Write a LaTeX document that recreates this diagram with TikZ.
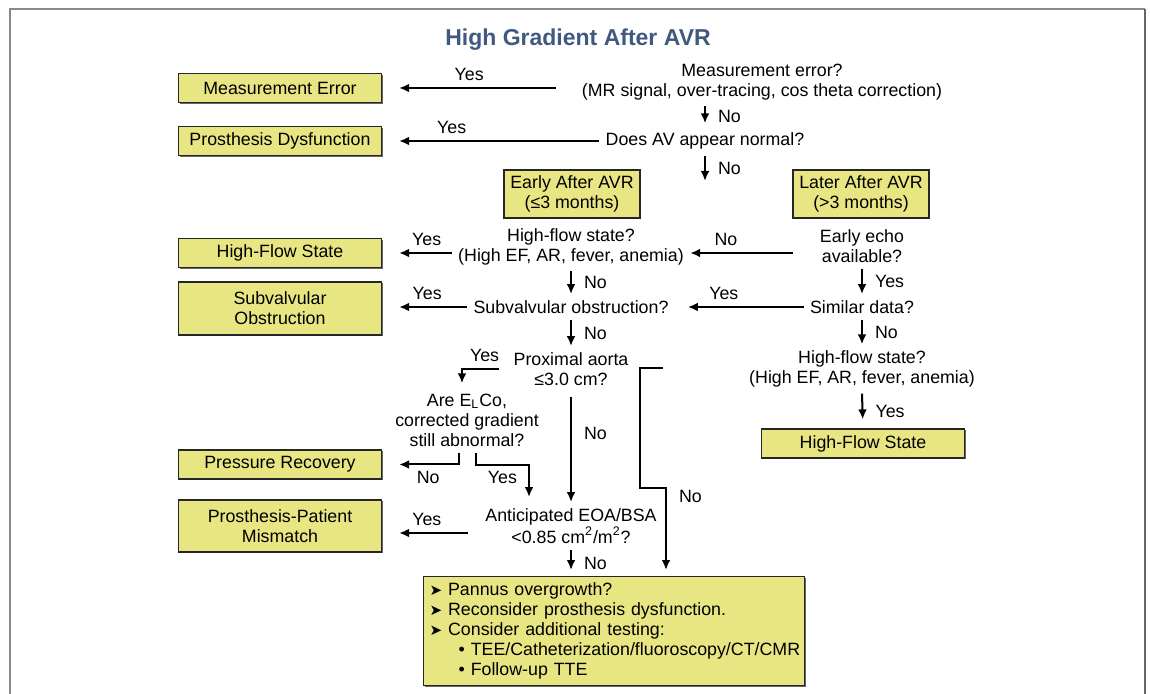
\documentclass[tikz,border=0pt]{standalone}
\usepackage{fontspec}
\setmainfont{Liberation Sans}
\newfontfamily\dejavu{DejaVu Sans}
\usepackage{tikz}
\usetikzlibrary{arrows.meta,calc,shadows}
\definecolor{caixa}{HTML}{E8E683}
\definecolor{titulo}{HTML}{3F5A7E}
\definecolor{moldura}{HTML}{8A8A8A}
\newcommand{\seta}{{\dejavu\fontsize{7.5}{7.5}\selectfont ➤}}

\begin{document}
\begin{tikzpicture}[x=0.5pt, y=-0.5pt, >={Latex[length=5pt,width=4.4pt]},
  every node/.style={font=\fontsize{8.9}{10}\selectfont},
  box/.style={draw=black!85, fill=caixa, line width=0.6pt, align=center,
    minimum width=101.5pt, minimum height=14.5pt, inner sep=2pt,
    drop shadow={shadow xshift=0.5pt, shadow yshift=-0.6pt, fill=black!60, opacity=1}},
  phase/.style={box, minimum width=68pt, minimum height=24pt},
  q/.style={align=center, inner sep=3pt},
  lbl/.style={inner sep=3pt},
  arr/.style={->, line width=1pt}]
  \useasboundingbox (0,0) rectangle (1150,694);
  % moldura
  \draw[moldura, line width=1pt] (10,694) -- (10,9) -- (1145,9);
  \draw[black!60, line width=1pt] (1145,9) -- (1145,694);
  \node[font=\fontsize{11.5}{13}\selectfont\bfseries, text=titulo] (title) at (578,40) {High Gradient After AVR};
  % caixas de resultado
  \node[box] (merr) at (280,88) {Measurement Error};
  \node[box] (pdys) at (280,141) {Prosthesis Dysfunction};
  \node[box] (hfs) at (280,253) {High-Flow State};
  \node[box, minimum height=26.5pt] (subv) at (280,308.5) {Subvalvular\\Obstruction};
  \node[box] (prec) at (280,464.5) {Pressure Recovery};
  \node[box, minimum height=26pt] (ppm) at (280,526) {Prosthesis-Patient\\Mismatch};
  \node[phase] (early) at (572,194) {Early After AVR\\(≤3 months)};
  \node[phase] (later) at (861,194) {Later After AVR\\(>3 months)};
  \node[box] (hfs2) at (863,443.5) {High-Flow State};
  \node[box, anchor=north west, minimum width=190.5pt, minimum height=54.5pt,
    text width=187.5pt, align=left, inner xsep=1.5pt] (tests) at (423,576)
    {\hspace*{1.5pt}\seta\ Pannus overgrowth?\\
     \hspace*{1.5pt}\seta\ Reconsider prosthesis dysfunction.\\
     \hspace*{1.5pt}\seta\ Consider additional testing:\\
     \hspace*{16pt}\textbullet\ TEE/Catheterization/fluoroscopy/CT/CMR\\
     \hspace*{16pt}\textbullet\ Follow-up TTE};
  % perguntas
  \node[q] (q1) at (762,82) {Measurement error?\\(MR signal, over-tracing, cos theta correction)};
  \node[q] (q2) at (705,141) {Does AV appear normal?};
  \node[q] (hf1) at (571,246.5) {High-flow state?\\(High EF, AR, fever, anemia)};
  \node[q] (echo) at (862,246.5) {Early echo\\available?};
  \node[q] (sub) at (571,307) {Subvalvular obstruction?};
  \node[q] (sim) at (862,307) {Similar data?};
  \node[q] (prox) at (571,369) {Proximal aorta\\≤3.0 cm?};
  \node[q] (hf2) at (862,369) {High-flow state?\\(High EF, AR, fever, anemia)};
  \node[q] (elco) at (467,420) {Are E\textsubscript{L}Co,\\corrected gradient\\still abnormal?};
  \node[q] (ant) at (571,526) {Anticipated EOA/BSA\\<0.85 cm\textsuperscript{2}/m\textsuperscript{2}?};
  \coordinate (fork) at (705,181);
  \coordinate (brk) at (663,368);
  \coordinate (nobend) at (666,488);
  % setas
  \draw[arr, shorten <=10pt, shorten >=8.5pt] (q1.west |- merr) -- (merr.east) node[lbl, pos=.55, above] {Yes};
  \draw[arr, shorten >=1.5pt] (q1.south -| q2) -- (q2.north) node[lbl, midway, right=3pt] {No};
  \draw[arr, shorten >=8.5pt] (q2.west) -- (pdys.east) node[lbl, pos=.68, above] {Yes};
  \draw[arr] (q2.south) -- (fork) node[lbl, midway, right=3pt] {No};
  \draw[arr, shorten <=10.5pt] (echo.west |- hfs) -- (hf1.east |- hfs) node[lbl, pos=.71, above] {No};
  \draw[arr, shorten >=8.5pt] (hf1.west |- hfs) -- (hfs.east) node[lbl, pos=.36, above] {Yes};
  \draw[arr] (hf1.south) -- (sub.north) node[lbl, midway, right=3pt] {No};
  \draw[arr] (echo.south) -- (sim.north) node[lbl, midway, right=3pt] {Yes};
  \draw[arr, shorten >=6.5pt] (sim.west) -- (sub.east) node[lbl, pos=.62, above] {Yes};
  \draw[arr, shorten >=8.5pt] (sub.west) -- (sub.west -| subv.east) node[lbl, pos=.47, above] {Yes};
  \draw[arr] (sub.south) -- (prox.north) node[lbl, midway, right=3pt] {No};
  \draw[arr] (sim.south) -- (hf2.north) node[lbl, midway, right=3pt] {No};
  \draw[arr, shorten >=4.5pt] (hf2.south) -- (hfs2.north) node[lbl, midway, right=3pt] {Yes};
  \draw[arr, shorten <=4pt, shorten >=2pt] (prox.west) -| ([xshift=-2.5pt]elco.north) node[lbl, pos=.25, above] {Yes};
  \draw[arr, shorten <=2.5pt] (prox.south) -- (ant.north) node[lbl, pos=.38, right=3pt] {No};
  \draw[arr, shorten >=3pt] (brk) -- ++(-23,0) |- (nobend) -- (nobend |- tests.north) node[lbl, pos=.1, right=3pt] {No};
  \draw[arr, shorten >=8.5pt] ([xshift=-4pt]elco.south) |- (prec.east) node[lbl, pos=.7, below] {No};
  \draw[arr, shorten >=2.5pt] ([xshift=4.5pt]elco.south) -- ++(0,12) -| ([xshift=-21pt]ant.north) node[lbl, pos=.25, below] {Yes};
  \draw[arr, shorten >=8.5pt] ([shift={(-5.5pt,-3.5pt)}]ant.west) -- ([yshift=-3.5pt]ant.west -| ppm.east) node[lbl, pos=.48, above] {Yes};
  \draw[arr, shorten >=3pt] (ant.south) -- (tests.north -| ant) node[lbl, midway, right=3pt] {No};
\end{tikzpicture}
\end{document}
